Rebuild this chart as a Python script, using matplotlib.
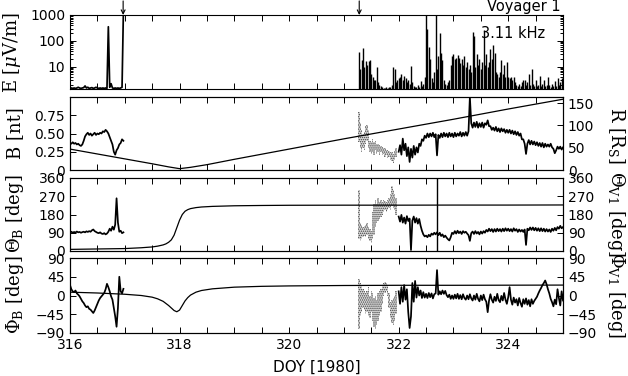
import numpy as np
import matplotlib
matplotlib.use("Agg")
import matplotlib.pyplot as plt
from matplotlib.ticker import FixedLocator, FixedFormatter, LogLocator, NullFormatter

plt.rcParams['font.family'] = ['DejaVu Sans']
plt.rcParams['mathtext.fontset'] = 'dejavuserif'
plt.rcParams['hatch.linewidth'] = 0.7

# ---------------- data ----------------
# segment 1 (DOY 316.0 - 316.975), step 0.025 d
t1 = np.round(np.arange(316.0, 316.976, 0.025), 3)
E1 = [1.45, 1.5, 1.45, 1.5, 1.45, 1.5, 1.6, 1.5, 1.45, 1.5,
      1.55, 1.8, 1.5, 1.6, 1.45, 1.5, 1.55, 1.45, 1.5, 1.6,
      1.5, 1.45, 1.5, 1.45, 1.5, 1.45, 1.5, 1.45, 350, 1.6,
      2.2, 1.5, 1.45, 1.5, 1.45, 1.5, 1.45, 1.5, 1.6, 1500]
B1 = [0.37, 0.36, 0.38, 0.36, 0.37, 0.35, 0.36, 0.34, 0.33, 0.35,
      0.40, 0.46, 0.49, 0.51, 0.48, 0.50, 0.47, 0.49, 0.51, 0.48,
      0.50, 0.49, 0.51, 0.50, 0.53, 0.52, 0.55, 0.53, 0.50, 0.45,
      0.40, 0.35, 0.25, 0.21, 0.27, 0.30, 0.35, 0.37, 0.42, 0.40]
TH1 = [92, 95, 90, 94, 91, 96, 92, 94, 90, 93,
       95, 92, 97, 94, 98, 95, 102, 106, 98, 94,
       90, 88, 92, 86, 84, 88, 82, 86, 95, 110,
       100, 120, 105, 130, 260, 140, 95, 100, 88, 92]
PH1 = [25, 15, 10, 8, 12, 5, 2, -2, -8, -14,
       -18, -24, -28, -26, -32, -34, -38, -42, -36, -28,
       -20, -12, -6, -2, 2, 6, 15, 28, 20, 10,
       -2, -10, -30, -50, -75, -30, 45, 10, 5, 16]

# E-field spikes, DOY 321.275 - 325.0, step 0.025 d
tE2 = np.round(np.arange(321.275, 325.001, 0.025), 3)
E2 = [38, 8, 18, 52, 10, 16, 12, 16, 18, 5,
      4, 3, 3, 10, 2.5, 2, 1.8, 1.6, 1.5, 1.5,
      1.6, 1.5, 1.7, 1.6, 2.0, 10, 8, 2.5, 3, 3.5,
      4, 5, 3, 4.5, 3.5, 2.5, 3, 2.2, 11, 2.5,
      1.8, 1.6, 1.6, 2.0, 1.7, 2.8, 1.8, 2.2, 4, 1500,
      300, 60, 20, 3.5, 2.5, 6, 1500, 8, 25, 200,
      35, 18, 3, 2.2, 2.0, 2.5, 3, 12, 25, 30,
      20, 22, 28, 22, 14, 20, 12, 25, 10, 15,
      8, 12, 6, 220, 150, 10, 30, 12, 20, 8,
      15, 260, 12, 30, 10, 15, 50, 20, 70, 35,
      6, 5, 4, 6, 18, 5, 12, 4, 15, 4,
      3.5, 4, 3, 4, 2.5, 2, 1.8, 2.2, 1.8, 2.5,
      3, 3, 2.0, 2.5, 5, 2, 8, 2.2, 1.8, 3,
      1.8, 2, 4.5, 1.8, 2.2, 3, 1.8, 2.0, 4, 2,
      1.7, 2.2, 1.8, 2.7, 1.8, 3.5, 2, 2.5, 3.5, 2]

# scattered (sparse) part, DOY 321.25 - 321.975: lower / upper envelope
tS = np.round(np.arange(321.25, 321.976, 0.025), 3)
B_lo = [0.35, 0.38, 0.30, 0.25, 0.30, 0.28, 0.35, 0.40, 0.30, 0.25, 0.22, 0.25, 0.20, 0.28, 0.22,
        0.25, 0.20, 0.24, 0.20, 0.22, 0.18, 0.20, 0.16, 0.18, 0.14, 0.12, 0.10, 0.14, 0.18, 0.20]
B_hi = [0.70, 0.80, 0.65, 0.55, 0.50, 0.52, 0.60, 0.62, 0.55, 0.40, 0.38, 0.42, 0.38, 0.40, 0.36,
        0.35, 0.34, 0.33, 0.32, 0.30, 0.30, 0.28, 0.28, 0.26, 0.25, 0.24, 0.22, 0.26, 0.30, 0.36]
TH_lo = [40, 60, 50, 60, 70, 75, 70, 80, 60, 50, 40, 60, 80, 120, 140,
         150, 160, 170, 180, 190, 200, 190, 200, 210, 200, 220, 210, 200, 180, 150]
TH_hi = [150, 300, 140, 130, 120, 125, 130, 140, 120, 110, 100, 190, 230, 250, 230,
         260, 240, 250, 240, 250, 245, 240, 250, 260, 280, 320, 300, 280, 260, 240]
PH_lo = [-60, -80, -50, -40, -30, -35, -45, -40, -50, -55, -40, -60, -75, -80, -70,
         -60, -50, -40, -20, 0, 5, 10, 0, -30, -55, -65, -70, -60, -45, -30]
PH_hi = [20, 40, 30, 25, 15, 10, 5, 10, 20, 0, 10, 5, -5, 0, -10,
         5, 10, 15, 25, 30, 32, 30, 25, 5, -15, -10, -5, 0, 10, 15]

# continuous part, DOY 322.0 - 325.0, step 0.025 d
t3 = np.round(np.arange(322.0, 325.001, 0.025), 3)
B3 = [0.25, 0.34, 0.21, 0.43, 0.27, 0.36, 0.19, 0.31, 0.11, 0.29,
      0.17, 0.33, 0.21, 0.31, 0.24, 0.36, 0.33, 0.42, 0.40, 0.47,
      0.44, 0.50, 0.45, 0.50, 0.46, 0.51, 0.45, 0.49, 0.20, 0.48,
      0.44, 0.50, 0.45, 0.51, 0.46, 0.50, 0.45, 0.51, 0.46, 0.50,
      0.45, 0.51, 0.46, 0.50, 0.47, 0.52, 0.46, 0.51, 0.47, 0.52,
      0.47, 0.53, 1.00, 0.64, 0.58, 0.65, 0.59, 0.66, 0.58, 0.64,
      0.59, 0.65, 0.58, 0.64, 0.62, 0.68, 0.60, 0.60, 0.55, 0.58,
      0.54, 0.59, 0.53, 0.57, 0.52, 0.57, 0.53, 0.56, 0.51, 0.55,
      0.51, 0.55, 0.50, 0.54, 0.49, 0.53, 0.48, 0.52, 0.47, 0.50,
      0.42, 0.42, 0.36, 0.22, 0.36, 0.41, 0.35, 0.40, 0.35, 0.39,
      0.34, 0.38, 0.33, 0.37, 0.32, 0.37, 0.31, 0.36, 0.32, 0.35,
      0.32, 0.36, 0.31, 0.29, 0.23, 0.27, 0.32, 0.29, 0.32, 0.28,
      0.31]
TH3 = [170, 145, 178, 140, 165, 135, 172, 148, 160, 5,
       150, 170, 140, 162, 135, 158, 125, 100, 82, 72,
       76, 68, 80, 72, 86, 80, 90, 82, 92, 78,
       90, 74, 82, 68, 76, 66, 58, 52, 68, 90,
       84, 98, 86, 100, 88, 96, 84, 98, 90, 95,
       86, 78, 50, 88, 96, 84, 98, 86, 94, 82,
       96, 86, 98, 90, 104, 96, 110, 98, 108, 94,
       108, 96, 110, 98, 108, 96, 110, 98, 112, 100,
       110, 98, 108, 96, 112, 100, 108, 94, 106, 96,
       104, 94, 106, 30, 110, 102, 116, 104, 116, 102,
       114, 100, 112, 98, 112, 98, 110, 96, 108, 96,
       106, 94, 110, 100, 114, 102, 118, 110, 124, 112,
       118]
PH3 = [10, -20, 20, -15, 25, -10, 15, -40, -78, -50,
       30, -15, 35, -5, 20, 0, 12, -6, 8, -5,
       4, -6, 6, -4, 5, -7, 3, 5, 61, 2,
       10, 3, 12, 4, 11, 1, -4, 2, -8, 0,
       -8, 2, -7, 4, -8, 1, -9, 3, -6, -10,
       0, -9, 3, -7, -12, 0, -10, 4, -8, -14,
       0, -11, 2, -9, -15, -40, -12, 3, -10, -17,
       -3, -13, 4, -11, -16, -1, -12, 6, -10, -20,
       -4, 20, -10, -22, -5, -17, -9, -24, -6, -18,
       -27, -9, -20, -7, -22, -11, -26, -9, -20, -13,
       -8, -3, 5, 12, 18, 25, 30, 36, 27, 15,
       5, -8, -16, -26, -10, -21, 15, -6, -24, 10,
       -12]

# Theta glitch (full-height line)
glitch_t = [322.70]
glitch_lo = [0]
glitch_hi = [360]

# Voyager 1 trajectory: distance and angles
tR = [316, 317, 317.5, 317.8, 318.0, 318.2, 318.5, 319, 320, 321, 322, 323, 324, 325]
R = [47, 25, 14, 7, 3, 6, 12, 24, 47, 70, 92, 114, 137, 159]
tTV = [316.0, 316.5, 317.0, 317.3, 317.5, 317.6, 317.7, 317.75, 317.8, 317.85, 317.9, 317.95,
       318.0, 318.05, 318.1, 318.15, 318.2, 318.3, 318.4, 318.6, 319.0, 319.5, 320.0, 321.0,
       322.0, 323.0, 324.0, 325.0]
THV = [8, 10, 12, 16, 20, 24, 30, 35, 43, 55, 78, 115,
       152, 180, 196, 204, 209, 214, 217, 220, 223, 224.5, 225.5, 226,
       226, 226.5, 226.5, 227]
tPV = [316.0, 316.5, 317.0, 317.3, 317.5, 317.6, 317.7, 317.8, 317.85, 317.9, 317.95, 318.0,
       318.05, 318.1, 318.15, 318.2, 318.3, 318.4, 318.6, 319.0, 319.5, 320.0, 321.0, 322.0,
       323.0, 325.0]
PHV = [8, 6, 3, 0, -4, -8, -14, -24, -30, -36, -39, -35,
       -24, -13, -5, 1, 8, 12, 16, 20, 22, 23, 24, 24.5,
       24.5, 25]

arrow_t = [316.97, 321.28]
xticks_major = [316, 318, 320, 322, 324]

# ---------------- figure ----------------
fig = plt.figure(figsize=(6.28, 3.76), dpi=100)
L, W = 70 / 628, 493 / 628
def pos(top, bot):
    return [L, 1 - bot / 376, W, (bot - top) / 376]

ax1 = fig.add_axes(pos(15, 89))
ax2 = fig.add_axes(pos(97, 170))
ax3 = fig.add_axes(pos(178, 251))
ax4 = fig.add_axes(pos(258, 333))
axes = [ax1, ax2, ax3, ax4]

lw = 1.25     # noisy data traces
lwm = 0.9     # smooth trajectory curves
TF = 10  # tick font size

xt = np.arange(316, 325.01, 0.5)
for ax in axes:
    ax.set_xlim(316, 325)
    ax.xaxis.set_major_locator(FixedLocator(xt))
    ax.xaxis.set_major_formatter(FixedFormatter(
        [str(int(v)) if (v in xticks_major) else '' for v in xt]))
    ax.tick_params(axis='both', which='both', direction='in', top=True,
                   labelsize=TF, pad=3.5, width=0.7)
    ax.tick_params(axis='both', which='major', length=4)
    ax.tick_params(axis='both', which='minor', length=2.5)
    for s in ax.spines.values():
        s.set_linewidth(0.8)
for ax in axes[:3]:
    ax.tick_params(labelbottom=False)

# --- panel 1 ---
ax1.set_yscale('log')
ybot = 1.37
ax1.set_ylim(ybot, 1000)
ax1.plot(t1, E1, color='k', lw=lw)
ax1.vlines(tE2, ybot, E2, color='k', lw=1.0)
ax1.yaxis.set_major_locator(FixedLocator([10, 100, 1000]))
ax1.yaxis.set_major_formatter(FixedFormatter(['10', '100', '1000']))
ax1.yaxis.set_minor_locator(LogLocator(base=10, subs=np.arange(2, 10)))
ax1.yaxis.set_minor_formatter(NullFormatter())
ax1.tick_params(axis='y', which='both', right=True)
for at in arrow_t:
    ax1.annotate('', xy=(at, 1.0), xycoords=('data', 'axes fraction'),
                 xytext=(at, 1.19), textcoords=('data', 'axes fraction'),
                 arrowprops=dict(arrowstyle='->', lw=0.8, color='k',
                                 shrinkA=0, shrinkB=0, mutation_scale=7),
                 annotation_clip=False)
ax1.text(0.995, 1.02, 'Voyager 1', transform=ax1.transAxes, ha='right', va='bottom',
         fontsize=10.5)
ax1.text(481 / 628, 1 - 33 / 376, '3.11 kHz', transform=fig.transFigure,
         ha='left', va='center', fontsize=10.5)

def scatter_cloud(ax, lo, hi):
    # sparse scattered samples shown as a speckled envelope
    ax.fill_between(tS, lo, hi, facecolor='0.86', edgecolor='0.25', hatch='........',
                    lw=0, step='mid')

# --- panel 2 ---
ax2.set_ylim(0, 1.0)
ax2.plot(t1, B1, color='k', lw=lw)
scatter_cloud(ax2, B_lo, B_hi)
ax2.plot(t3, B3, color='k', lw=lw)
ax2.yaxis.set_major_locator(FixedLocator([0, 0.25, 0.5, 0.75]))
ax2.yaxis.set_major_formatter(FixedFormatter(['0', '0.25', '0.50', '0.75']))
ax2r = ax2.twinx()
ax2r.set_ylim(0, 164)
ax2r.plot(tR, R, color='k', lw=lwm)
ax2r.yaxis.set_major_locator(FixedLocator([0, 50, 100, 150]))
ax2r.tick_params(axis='y', direction='in', length=4, labelsize=TF, pad=3.5, width=0.7)

# --- panel 3 ---
ax3.set_ylim(0, 360)
ax3.plot(t1, TH1, color='k', lw=lw)
scatter_cloud(ax3, TH_lo, TH_hi)
ax3.plot(t3, TH3, color='k', lw=lw)
ax3.vlines(glitch_t, glitch_lo, glitch_hi, color='k', lw=1.0)
ax3.yaxis.set_major_locator(FixedLocator([0, 90, 180, 270, 360]))
ax3r = ax3.twinx()
ax3r.set_ylim(0, 360)
ax3r.plot(tTV, THV, color='k', lw=lwm)
ax3r.yaxis.set_major_locator(FixedLocator([0, 90, 180, 270, 360]))
ax3r.tick_params(axis='y', direction='in', length=4, labelsize=TF, pad=3.5, width=0.7)

# --- panel 4 ---
ax4.set_ylim(-90, 90)
ax4.plot(t1, PH1, color='k', lw=lw)
scatter_cloud(ax4, PH_lo, PH_hi)
ax4.plot(t3, PH3, color='k', lw=lw)
ax4.yaxis.set_major_locator(FixedLocator([-90, -45, 0, 45, 90]))
ax4r = ax4.twinx()
ax4r.set_ylim(-90, 90)
ax4r.plot(tPV, PHV, color='k', lw=lwm)
ax4r.yaxis.set_major_locator(FixedLocator([-90, -45, 0, 45, 90]))
ax4r.tick_params(axis='y', direction='in', length=4, labelsize=TF, pad=3.5, width=0.7)

for axr in (ax2r, ax3r, ax4r):
    for s in axr.spines.values():
        s.set_linewidth(0.8)

# --- labels ---
LF = 13
serif = 'DejaVu Serif'
def lab(x, y, s, rot):
    fig.text(x / 628, 1 - y / 376, s, rotation=rot, ha='center', va='center',
             fontsize=LF, family=serif)
lab(12, 52, r'E [$\mu$V/m]', 90)
lab(15, 133, 'B [nt]', 90)
lab(15, 214, r'$\Theta_{\rm B}$ [deg]', 90)
lab(15, 295, r'$\Phi_{\rm B}$ [deg]', 90)
lab(616, 135, r'R [R$_{\rm S}$]', -90)
lab(616, 214, r'$\Theta_{\rm V1}$ [deg]', -90)
lab(616, 295, r'$\Phi_{\rm V1}$ [deg]', -90)
fig.text(316.5 / 628, 1 - 367 / 376, 'DOY [1980]', ha='center', va='center', fontsize=11)

fig.savefig('out.png', dpi=100)
